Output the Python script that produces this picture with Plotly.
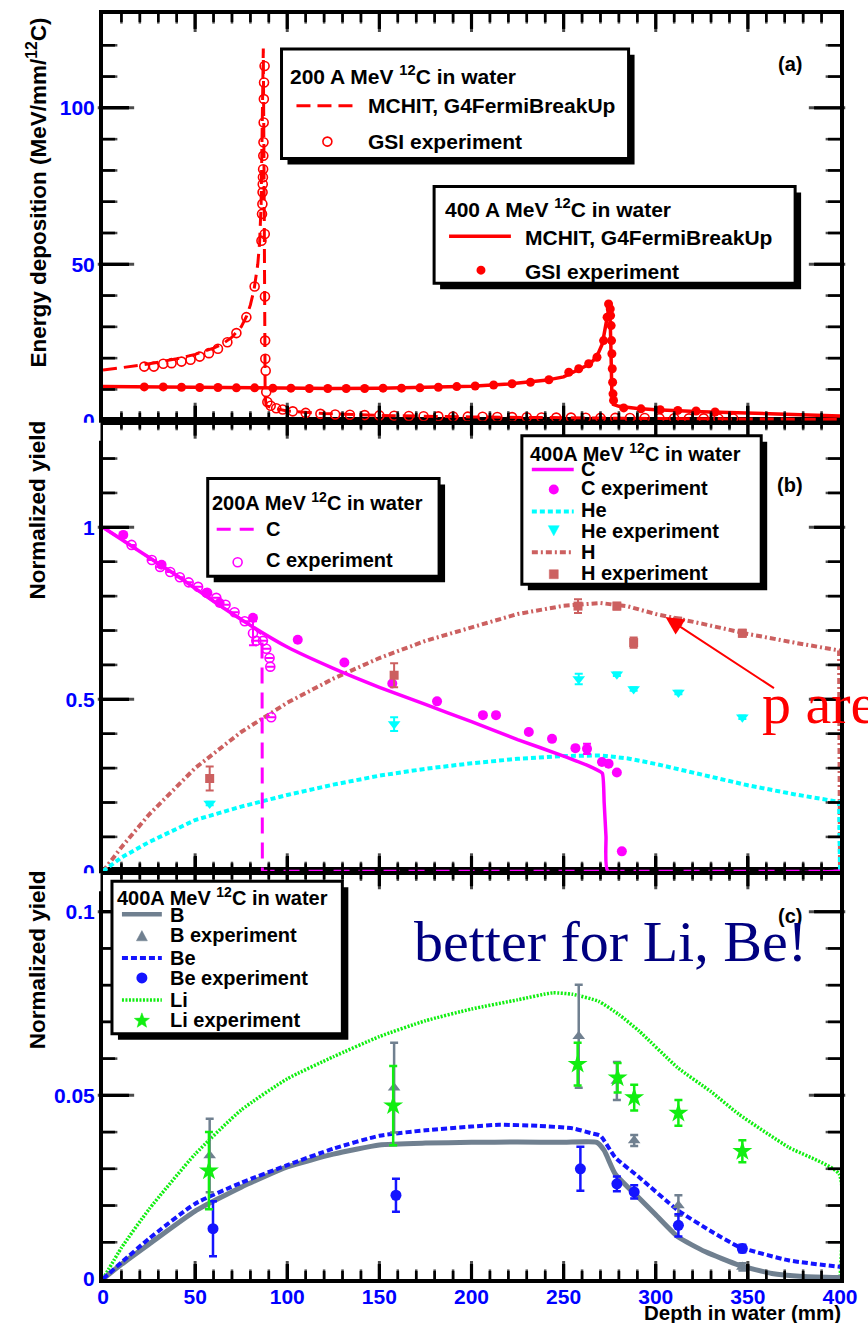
import math
import plotly.graph_objects as go

# ---------------- panel (a): energy deposition ----------------
depth_200 = [0, 10, 20, 30, 40, 50, 60, 65, 70, 75, 78, 80, 82, 84, 85.0, 85.8, 86.5, 87.0,
             87.4, 87.7, 88.0, 88.5, 90, 95, 100, 120, 150, 200, 250, 300, 350, 400]
edep_200 = [16.2, 16.9, 17.7, 18.7, 19.8, 21.2, 23.2, 24.6, 26.7, 30.0, 33.5, 37.0, 42.0, 50.0,
            57.0, 69.0, 95.0, 119.0, 80.0, 30.0, 8.0, 5.0, 4.5, 3.7, 3.1, 2.3, 1.7, 1.2, 0.9,
            0.7, 0.55, 0.45]

gsi200_x = [22.4, 27.6, 32.7, 37.2, 42.6, 47.5, 52.5, 57.5, 62.4, 67.5, 72.4, 77.8, 82.3,
            86.0, 86.3, 86.5, 86.6, 86.7, 86.8, 86.9, 87.0, 87.1, 87.2, 87.3, 87.4,
            87.7, 87.8, 87.9, 88.0, 88.1, 88.3, 88.6, 89.2, 91, 94, 97.5, 103, 110, 118, 126,
            134, 142, 150, 158, 166, 174, 182, 190, 198, 206, 214, 222, 230, 238, 246, 254,
            262, 270, 278, 286, 294, 302, 310, 318, 326, 334, 342]
gsi200_y = [17.3, 17.3, 18.2, 18.4, 18.9, 19.5, 20.5, 21.6, 23.0, 25.1, 28.0, 33.1, 42.9,
            57.5, 66.1, 69.3, 73.0, 75.6, 77.8, 80.4, 84.7, 89.0, 95.3, 102.8, 108.1,
            113.4, 59.7, 39.7, 25.6, 19.8, 16.0, 9.2, 6.0, 4.8, 4.0, 3.6, 3.0, 2.5, 2.2, 2.0,
            1.9, 1.8, 1.7, 1.6, 1.5, 1.45, 1.4, 1.35, 1.3, 1.25, 1.2, 1.15, 1.1, 1.05, 1.0, 1.0,
            0.95, 0.9, 0.9, 0.85, 0.85, 0.8, 0.8, 0.75, 0.75, 0.7, 0.7]

depth_400 = [0, 25, 50, 75, 100, 125, 150, 175, 200, 220, 240, 250, 256, 262, 266, 269, 271,
             272.5, 273.8, 275.0, 275.6, 276.2, 277, 280, 290, 300, 325, 350, 375, 400]
edep_400 = [10.9, 10.8, 10.6, 10.4, 10.3, 10.3, 10.4, 10.6, 11.0, 11.7, 12.9, 14.0, 15.8, 17.5,
            19.2, 21.8, 24.5, 30.0, 34.5, 37.5, 25.0, 8.0, 5.2, 4.6, 3.9, 3.5, 2.9, 2.4, 1.9, 1.5]

gsi400_x = [22.4, 32.7, 42.6, 52.5, 62.4, 72.4, 82.3, 92.2, 102, 112, 122, 132, 142, 152, 162,
            172, 182, 192, 202, 212, 222, 232, 242, 252.8, 258.2, 263.6, 268.1, 271.7, 273.6,
            274.4, 275.3, 275.5, 275.8, 276.0, 276.2, 276.4, 276.6, 276.8, 277.1, 282.6, 292,
            302.4, 312, 321.9, 332.2]
gsi400_y = [10.8, 10.8, 10.7, 10.6, 10.6, 10.5, 10.5, 10.4, 10.4, 10.3, 10.3, 10.3, 10.3, 10.4,
            10.4, 10.5, 10.7, 10.9, 11.1, 11.4, 11.8, 12.3, 13.1, 15.5, 16.6, 18.2, 20.3, 25.6,
            33.1, 37.3, 35.7, 33.6, 30.4, 25.6, 21.4, 16.6, 12.3, 8.6, 6.5, 4.1, 3.8, 3.5, 3.3,
            3.1, 2.8]

# ---------------- panel (b): C, He, H yields ----------------
c400_x = [0, 20, 40, 60, 80, 100, 125, 150, 175, 200, 225, 250, 265, 271, 272, 273, 274, 400]
c400_y = [1.0, 0.93, 0.86, 0.785, 0.715, 0.652, 0.59, 0.535, 0.485, 0.435, 0.383, 0.335,
          0.303, 0.285, 0.2, 0.1, 0.0, 0.0]

c200_x = [0, 20, 40, 60, 80, 86.3, 86.5, 400]
c200_y = [1.0, 0.93, 0.86, 0.785, 0.715, 0.69, 0.0, 0.0]

c400_exp_x = [11.0, 31.8, 56.1, 63.3, 81.4, 105.7, 131, 157, 181.3, 206.2, 213.3, 231.1,
              243.7, 256.4, 262.7, 270.8, 274.4, 278.9, 281.6]
c400_exp_y = [0.978, 0.891, 0.809, 0.78, 0.737, 0.673, 0.607, 0.546, 0.494, 0.454, 0.454,
              0.405, 0.385, 0.358, 0.356, 0.318, 0.313, 0.287, 0.058]
c400_exp_err = [0, 0, 0, 0, 0, 0, 0, 0, 0, 0, 0, 0, 0, 0, 0.015, 0, 0, 0, 0]

c200_exp_x = [15.5, 26.5, 31.0, 36.5, 41.7, 46.5, 51.6, 56.5, 61.5, 66.5, 71.4, 76.9, 81.4,
              83.2, 86.8, 88.6, 90.4, 90.8, 91.3]
c200_exp_y = [0.949, 0.905, 0.885, 0.87, 0.855, 0.84, 0.827, 0.81, 0.795, 0.775, 0.753, 0.727,
              0.692, 0.67, 0.67, 0.647, 0.62, 0.595, 0.448]
c200_exp_err = [0, 0, 0, 0, 0, 0, 0, 0, 0, 0, 0, 0, 0.035, 0, 0, 0, 0, 0, 0]

h_x = [0, 10, 25, 50, 75, 100, 125, 150, 175, 200, 225, 250, 270, 285, 300, 325, 350, 375,
       399.5, 400]
h_y = [0, 0.07, 0.165, 0.3, 0.405, 0.49, 0.56, 0.62, 0.67, 0.71, 0.748, 0.772, 0.78, 0.77,
       0.748, 0.72, 0.69, 0.665, 0.642, 0.0]

he_x = [0, 10, 25, 50, 75, 100, 125, 150, 175, 200, 225, 250, 270, 285, 300, 325, 350, 375,
        399.5, 400]
he_y = [0, 0.04, 0.085, 0.149, 0.188, 0.222, 0.252, 0.278, 0.298, 0.314, 0.327, 0.335, 0.337,
        0.328, 0.312, 0.282, 0.25, 0.224, 0.202, 0.0]

he_exp_x = [57.9, 158, 258.2, 278.9, 288, 312.3, 347]
he_exp_y = [0.197, 0.428, 0.559, 0.573, 0.53, 0.52, 0.448]
he_exp_err = [0.005, 0.02, 0.015, 0.005, 0.005, 0.005, 0.005]

h_exp_x = [57.9, 158, 257.8, 278.9, 288, 311.9, 347]
h_exp_y = [0.27, 0.57, 0.771, 0.771, 0.665, 0.727, 0.692]
h_exp_err = [0.035, 0.035, 0.02, 0.01, 0.015, 0.01, 0.01]

# ---------------- panel (c): B, Be, Li yields ----------------
b_x = [0, 10, 25, 50, 75, 100, 125, 150, 175, 200, 225, 250, 268, 272, 278, 290, 300, 312,
       327, 345, 363, 380, 400]
b_y = [0, 0.004, 0.0095, 0.0185, 0.025, 0.0305, 0.034, 0.0365, 0.037, 0.0372, 0.0373, 0.0372,
       0.0372, 0.035, 0.0286, 0.0225, 0.0175, 0.0115, 0.0074, 0.0038, 0.0015, 0.0007, 0.0004]

be_x = [0, 10, 25, 50, 75, 100, 125, 150, 175, 200, 215, 236, 255, 265, 270, 278, 291, 312,
        330, 345, 372, 400]
be_y = [0, 0.0045, 0.011, 0.0205, 0.0262, 0.031, 0.0355, 0.039, 0.0405, 0.0415, 0.042, 0.0417,
        0.041, 0.0397, 0.039, 0.0331, 0.0277, 0.0187, 0.013, 0.0088, 0.0051, 0.0033]

li_x = [0, 10, 25, 50, 75, 100, 125, 150, 175, 200, 225, 244, 255, 269, 280, 291, 312, 330,
        345, 372, 399.5, 400]
li_y = [0, 0.0085, 0.019, 0.034, 0.046, 0.0545, 0.0605, 0.066, 0.0703, 0.0735, 0.076, 0.0779,
        0.0775, 0.0756, 0.072, 0.0675, 0.0575, 0.051, 0.0449, 0.0359, 0.0286, 0.0]

b_exp_x = [57.9, 158, 258.2, 278.9, 288.3, 312.3, 347]
b_exp_y = [0.0336, 0.0521, 0.0661, 0.0539, 0.0377, 0.0200, 0.0033]
b_exp_err = [0.010, 0.0122, 0.014, 0.0052, 0.0015, 0.0028, 0.001]

be_exp_x = [59.7, 159, 259.1, 278.9, 288.3, 312.3, 347]
be_exp_y = [0.0137, 0.0228, 0.030, 0.0259, 0.0237, 0.0146, 0.0083]
be_exp_err = [0.0075, 0.0045, 0.006, 0.002, 0.0018, 0.003, 0.001]

li_exp_x = [57.5, 157.5, 257.6, 279.3, 288.3, 312.3, 347]
li_exp_y = [0.0295, 0.0472, 0.0585, 0.0548, 0.0494, 0.0452, 0.0348]
li_exp_err = [0.0105, 0.0108, 0.0058, 0.004, 0.0035, 0.0035, 0.003]

# ---------------- axis ranges ----------------
X_RANGE = [0, 400]
Y_RANGE_A = [0, 130]
Y_RANGE_B = [0, 1.31]
Y_RANGE_C = [0, 0.111]

# ---------------- colours ----------------
RED = "#FF0000"
MAG = "#FF00FF"
CYAN = "#00FFFF"
HCOL = "#CC6060"
BCOL = "#708090"
BECOL = "#1414FF"
LICOL = "#11EE11"

# ---------------- page geometry (pixels) ----------------
W, H = 868, 1323
ML, MR, MT, MB = 103, 26, 10, 44
PW = W - ML - MR
PH = H - MT - MB
TOP_A, TOP_B, TOP_C, BOTTOM = 10, 418, 870, H - MB


def px(x):
    return (x - ML) / PW


def py(y):
    return (H - MB - y) / PH


fig = go.Figure()
SMOOTH = dict(shape="spline", smoothing=0.5)

# panel (a) -> x3/y3, panel (b) -> x2/y2, panel (c) -> x/y
fig.add_trace(go.Scatter(x=depth_200, y=edep_200, mode="lines", xaxis="x3", yaxis="y3",
                         line=dict(color=RED, width=3, dash="14px,7px")))
fig.add_trace(go.Scatter(x=depth_400, y=edep_400, mode="lines", xaxis="x3", yaxis="y3",
                         line=dict(color=RED, width=3.5)))
fig.add_trace(go.Scatter(x=gsi200_x, y=gsi200_y, mode="markers", xaxis="x3", yaxis="y3",
                         marker=dict(symbol="circle-open", size=9, color=RED,
                                     line=dict(width=1.6, color=RED))))
fig.add_trace(go.Scatter(x=gsi400_x, y=gsi400_y, mode="markers", xaxis="x3", yaxis="y3",
                         marker=dict(symbol="circle", size=9, color=RED)))

fig.add_trace(go.Scatter(x=h_x, y=h_y, mode="lines", xaxis="x2", yaxis="y2",
                         line=dict(color=HCOL, width=4, dash="6px,3px,2px,3px")))
fig.add_trace(go.Scatter(x=he_x, y=he_y, mode="lines", xaxis="x2", yaxis="y2",
                         line=dict(color=CYAN, width=4, dash="5px,3px")))
fig.add_trace(go.Scatter(x=c200_x, y=c200_y, mode="lines", xaxis="x2", yaxis="y2",
                         line=dict(color=MAG, width=3, dash="16px,9px")))
fig.add_trace(go.Scatter(x=c400_x, y=c400_y, mode="lines", xaxis="x2", yaxis="y2",
                         line=dict(color=MAG, width=3.5, shape="spline", smoothing=0.4)))
fig.add_trace(go.Scatter(x=c200_exp_x, y=c200_exp_y, mode="markers", xaxis="x2", yaxis="y2",
                         marker=dict(symbol="circle-open", size=9, color=MAG,
                                     line=dict(width=1.6, color=MAG)),
                         error_y=dict(type="data", array=c200_exp_err, color=MAG,
                                      thickness=2, width=4)))
fig.add_trace(go.Scatter(x=c400_exp_x, y=c400_exp_y, mode="markers", xaxis="x2", yaxis="y2",
                         marker=dict(symbol="circle", size=10, color=MAG),
                         error_y=dict(type="data", array=c400_exp_err, color=MAG,
                                      thickness=2, width=4)))
fig.add_trace(go.Scatter(x=he_exp_x, y=he_exp_y, mode="markers", xaxis="x2", yaxis="y2",
                         marker=dict(symbol="triangle-down", size=11, color=CYAN),
                         error_y=dict(type="data", array=he_exp_err, color=CYAN,
                                      thickness=2, width=4)))
fig.add_trace(go.Scatter(x=h_exp_x, y=h_exp_y, mode="markers", xaxis="x2", yaxis="y2",
                         marker=dict(symbol="square", size=9, color=HCOL),
                         error_y=dict(type="data", array=h_exp_err, color=HCOL,
                                      thickness=2, width=4)))

fig.add_trace(go.Scatter(x=li_x, y=li_y, mode="lines", xaxis="x", yaxis="y",
                         line=dict(color=LICOL, width=3.5, dash="2px,1.5px", **SMOOTH)))
fig.add_trace(go.Scatter(x=b_x, y=b_y, mode="lines", xaxis="x", yaxis="y",
                         line=dict(color=BCOL, width=5, **SMOOTH)))
fig.add_trace(go.Scatter(x=be_x, y=be_y, mode="lines", xaxis="x", yaxis="y",
                         line=dict(color=BECOL, width=4, dash="6px,3px", **SMOOTH)))
fig.add_trace(go.Scatter(x=b_exp_x, y=b_exp_y, mode="markers", xaxis="x", yaxis="y",
                         marker=dict(symbol="triangle-up", size=11, color=BCOL),
                         error_y=dict(type="data", array=b_exp_err, color=BCOL,
                                      thickness=2.5, width=4)))
fig.add_trace(go.Scatter(x=be_exp_x, y=be_exp_y, mode="markers", xaxis="x", yaxis="y",
                         marker=dict(symbol="circle", size=11, color=BECOL),
                         error_y=dict(type="data", array=be_exp_err, color=BECOL,
                                      thickness=2.5, width=4)))
fig.add_trace(go.Scatter(x=li_exp_x, y=li_exp_y, mode="markers", xaxis="x", yaxis="y",
                         marker=dict(symbol="star", size=15, color=LICOL),
                         error_y=dict(type="data", array=li_exp_err, color=LICOL,
                                      thickness=2.5, width=4)))


# ---------------- inside tick marks drawn as line markers ----------------
def marker_ticks(xa, ya, yrange, top_px, bottom_px, y_major, y_minor):
    ux = (X_RANGE[1] - X_RANGE[0]) / PW
    uy = (yrange[1] - yrange[0]) / (bottom_px - top_px)
    xs, ys, sym, size, lw = [], [], [], [], []
    for v in range(10, 400, 10):
        ln, w = (15, 3) if v % 50 == 0 else (8, 2.5)
        for yy in (yrange[0] + ln / 2 * uy, yrange[1] - ln / 2 * uy):
            xs.append(v)
            ys.append(yy)
            sym.append("line-ns-open")
            size.append(ln)
            lw.append(w)
    for vals, ln, w in ((y_major, 26, 3), (y_minor, 12, 2.5)):
        for v in vals:
            for xx in (X_RANGE[0] + ln / 2 * ux, X_RANGE[1] - ln / 2 * ux):
                xs.append(xx)
                ys.append(v)
                sym.append("line-ew-open")
                size.append(ln)
                lw.append(w)
    fig.add_trace(go.Scatter(x=xs, y=ys, mode="markers", xaxis=xa, yaxis=ya,
                             hoverinfo="skip", cliponaxis=False,
                             marker=dict(symbol=sym, size=size, color="black",
                                         line=dict(width=lw, color="black"))))


marker_ticks("x3", "y3", Y_RANGE_A, TOP_A, TOP_B, [50, 100],
             [k * 10 for k in range(1, 13) if k % 5])
marker_ticks("x2", "y2", Y_RANGE_B, TOP_B, TOP_C, [0.5, 1.0],
             [k / 10 for k in range(1, 13) if k % 5])
marker_ticks("x", "y", Y_RANGE_C, TOP_C, BOTTOM, [0.05, 0.1],
             [k / 100 for k in range(1, 11) if k % 5])

# ---------------- axes ----------------
TICKFONT = dict(family="Liberation Sans, Arial", size=21, color="#0000FF", weight="bold")
frame = dict(showline=True, linecolor="black", linewidth=4, mirror=True,
             ticks="inside", tickcolor="black", tickwidth=3, showgrid=False,
             zeroline=False, fixedrange=True)


def xax(show_labels, anchor):
    return dict(frame, range=X_RANGE, tickmode="linear", tick0=0, dtick=50, ticklen=15,
                showticklabels=show_labels, tickfont=TICKFONT, anchor=anchor)


def yax(rng, dtick, domain, anchor):
    return dict(frame, range=rng, tickmode="linear", tick0=0, dtick=dtick, ticklen=26,
                tickfont=TICKFONT, domain=domain, anchor=anchor)


D_C = [0, py(TOP_C)]
D_B = [py(TOP_C), py(TOP_B)]
D_A = [py(TOP_B), 1]

fig.update_layout(
    width=W, height=H, autosize=False,
    margin=dict(l=ML, r=MR, t=MT, b=MB),
    paper_bgcolor="white", plot_bgcolor="white", showlegend=False,
    xaxis=xax(True, "y"),
    xaxis2=dict(xax(False, "y2"), matches="x"),
    xaxis3=dict(xax(False, "y3"), matches="x"),
    yaxis=yax(Y_RANGE_C, 0.05, D_C, "x"),
    yaxis2=yax(Y_RANGE_B, 0.5, D_B, "x2"),
    yaxis3=yax(Y_RANGE_A, 50, D_A, "x3"),
)
try:
    fig.update_layout(xaxis_ticklabelstandoff=-4)
except ValueError:
    pass

shapes = []
annos = []


# ---------------- tick marks as filled bars on the page ----------------
def tick_bar(x0, y0, x1, y1):
    shapes.append(dict(type="rect", xref="paper", yref="paper", layer="above",
                       x0=px(x0), x1=px(x1), y0=py(y0), y1=py(y1),
                       fillcolor="black", line=dict(width=0)))


def panel_ticks(yrange, top_px, bottom_px, y_major, y_minor):
    def xpix(v):
        return ML + (v - X_RANGE[0]) / (X_RANGE[1] - X_RANGE[0]) * PW

    def ypix(v):
        return bottom_px - (v - yrange[0]) / (yrange[1] - yrange[0]) * (bottom_px - top_px)

    for v in range(10, 400, 10):
        ln, hw = (15, 1.6) if v % 50 == 0 else (8, 1.3)
        xc = xpix(v)
        tick_bar(xc - hw, bottom_px, xc + hw, bottom_px - ln)
        tick_bar(xc - hw, top_px, xc + hw, top_px + ln)
    for vals, ln, hw in ((y_major, 26, 1.6), (y_minor, 12, 1.3)):
        for v in vals:
            yc = ypix(v)
            tick_bar(ML, yc - hw, ML + ln, yc + hw)
            tick_bar(W - MR - ln, yc - hw, W - MR, yc + hw)


panel_ticks(Y_RANGE_A, TOP_A, TOP_B, [50, 100], [k * 10 for k in range(1, 13) if k % 5])
panel_ticks(Y_RANGE_B, TOP_B, TOP_C, [0.5, 1.0], [k / 10 for k in range(1, 13) if k % 5])
panel_ticks(Y_RANGE_C, TOP_C, BOTTOM, [0.05, 0.1], [k / 100 for k in range(1, 11) if k % 5])

# ---------------- legends, labels, annotations ----------------
BOLD = dict(family="Liberation Sans, Arial", color="black", weight="bold")


def text(x, y, s, size=17, anchor="left", **kw):
    annos.append(dict(xref="paper", yref="paper", x=px(x), y=py(y), text=s, showarrow=False,
                      xanchor=anchor, yanchor="middle", font=dict(BOLD, size=size), **kw))


def box(x0, y0, x1, y1, off=6):
    shapes.append(dict(type="rect", xref="paper", yref="paper", layer="above",
                       x0=px(x0 + off), x1=px(x1 + off), y0=py(y0 + off), y1=py(y1 + off),
                       fillcolor="black", line=dict(width=0)))
    shapes.append(dict(type="rect", xref="paper", yref="paper", layer="above",
                       x0=px(x0), x1=px(x1), y0=py(y0), y1=py(y1),
                       fillcolor="white", line=dict(color="black", width=3)))


def sample_line(x0, x1, y, color, width, dash="solid"):
    shapes.append(dict(type="line", xref="paper", yref="paper", layer="above",
                       x0=px(x0), x1=px(x1), y0=py(y), y1=py(y),
                       line=dict(color=color, width=width, dash=dash)))


def sample_circle(cx, cy, d, color, filled=True):
    shapes.append(dict(type="circle", xref="paper", yref="paper", layer="above",
                       x0=px(cx - d / 2), x1=px(cx + d / 2), y0=py(cy - d / 2),
                       y1=py(cy + d / 2), fillcolor=color if filled else "white",
                       line=dict(color=color, width=0 if filled else 1.6)))


def sample_path(points, color):
    path = "M " + " L ".join(f"{px(a):.5f},{py(b):.5f}" for a, b in points) + " Z"
    shapes.append(dict(type="path", xref="paper", yref="paper", layer="above", path=path,
                       fillcolor=color, line=dict(color=color, width=0.5)))


def sample_triangle(cx, cy, s, color, down=False):
    k = -1 if down else 1
    sample_path([(cx - s / 2, cy + k * s * 0.43), (cx + s / 2, cy + k * s * 0.43),
                 (cx, cy - k * s * 0.5)], color)


def sample_square(cx, cy, s, color):
    sample_path([(cx - s / 2, cy - s / 2), (cx + s / 2, cy - s / 2),
                 (cx + s / 2, cy + s / 2), (cx - s / 2, cy + s / 2)], color)


def sample_star(cx, cy, r, color):
    pts = []
    for i in range(10):
        ang = -math.pi / 2 + i * math.pi / 5
        rr = r if i % 2 == 0 else r * 0.42
        pts.append((cx + rr * math.cos(ang), cy + rr * math.sin(ang)))
    sample_path(pts, color)


LA = 21   # font size, panel (a) legends
LB = 20   # font size, panel (b)/(c) legends

# legend: 200 A MeV (panel a)
box(282, 45, 630, 155)
text(289, 71, "200 A MeV <sup>12</sup>C in water", LA)
sample_line(297, 357, 102, RED, 3, "14px,7px")
text(367, 102, "MCHIT, G4FermiBreakUp", LA)
sample_circle(328, 138, 9, RED, filled=False)
text(367, 138, "GSI experiment", LA)

# legend: 400 A MeV (panel a)
box(435, 183, 797, 280)
text(444, 205, "400 A MeV <sup>12</sup>C in water", LA)
sample_line(450, 512, 233, RED, 3.5)
text(524, 234, "MCHIT, G4FermiBreakUp", LA)
sample_circle(482, 267, 9, RED)
text(524, 268, "GSI experiment", LA)

# legend: 200A MeV (panel b)
box(208, 476, 440, 574)
text(210, 499, "200A MeV <sup>12</sup>C in water", LB)
sample_line(217, 260, 527, MAG, 3, "14px,9px")
text(264, 527, "C", LB)
sample_circle(238, 560, 9, MAG, filled=False)
text(264, 558, "C experiment", LB)

# legend: 400A MeV (panel b)
box(523, 433, 763, 582)
text(529, 450, "400A MeV <sup>12</sup>C in water", LB)
sample_line(533, 575, 467, MAG, 3.5)
text(580, 466, "C", LB)
sample_circle(555, 487, 10, MAG)
text(580, 486, "C experiment", LB)
sample_line(533, 575, 509, CYAN, 4, "5px,3px")
text(580, 508, "He", LB)
sample_triangle(555, 528, 11, CYAN, down=True)
text(580, 529, "He experiment", LB)
sample_line(533, 575, 550, HCOL, 4, "6px,3px,2px,3px")
text(580, 550, "H", LB)
sample_square(555, 572, 9, HCOL)
text(580, 571, "H experiment", LB)

# legend: 400A MeV (panel c)
box(112, 880, 343, 1033)
text(115, 895, "400A MeV <sup>12</sup>C in water", LB)
sample_line(122, 162, 913, BCOL, 4.5)
text(168, 914, "B", LB)
sample_triangle(142, 935, 11, BCOL)
text(168, 934, "B experiment", LB)
sample_line(122, 162, 957, BECOL, 4, "6px,3px")
text(168, 957, "Be", LB)
sample_circle(142, 977, 11, BECOL)
text(168, 977, "Be experiment", LB)
sample_line(122, 162, 999, LICOL, 3.5, "2px,1.5px")
text(168, 999, "Li", LB)
sample_star(142, 1020, 8, LICOL)
text(168, 1019, "Li experiment", LB)

# hide the lower half of the "0" labels that run into the next panel
for yb in (420, 872):
    shapes.append(dict(type="rect", xref="paper", yref="paper", layer="above",
                       x0=px(55), x1=px(100.5), y0=py(yb), y1=py(yb + 18),
                       fillcolor="white", line=dict(width=0)))

# axis titles
text(37, 189, "Energy deposition (MeV/mm/<sup>12</sup>C)", 22.5, anchor="center",
     textangle=-90)
text(37, 508, "Normalized yield", 22.5, anchor="center", textangle=-90)
text(37, 959, "Normalized yield", 22.5, anchor="center", textangle=-90)
text(845, 1313, "Depth in water (mm)", 20.5, anchor="right")

# panel tags
text(792, 60, "(a)", 20, anchor="center")
text(792, 482, "(b)", 20, anchor="center")
text(792, 915, "(c)", 20, anchor="center")

# commentary on the plot
annos.append(dict(xref="paper", yref="paper", x=px(762), y=py(702), text="p are",
                  showarrow=False, xanchor="left", yanchor="middle",
                  font=dict(family="Liberation Serif, Times New Roman", size=58, color=RED)))
annos.append(dict(xref="paper", yref="paper", x=px(667), y=py(615), ax=110, ay=72,
                  axref="pixel", ayref="pixel", text="", showarrow=True, arrowhead=2,
                  arrowsize=1.8, arrowwidth=2, arrowcolor=RED))
annos.append(dict(xref="paper", yref="paper", x=px(612), y=py(940),
                  text="better for Li, Be!", showarrow=False, xanchor="center",
                  yanchor="middle",
                  font=dict(family="Liberation Serif, Times New Roman", size=58,
                            color="#000080")))

fig.update_layout(shapes=shapes, annotations=annos)
fig.write_html("out.html")
